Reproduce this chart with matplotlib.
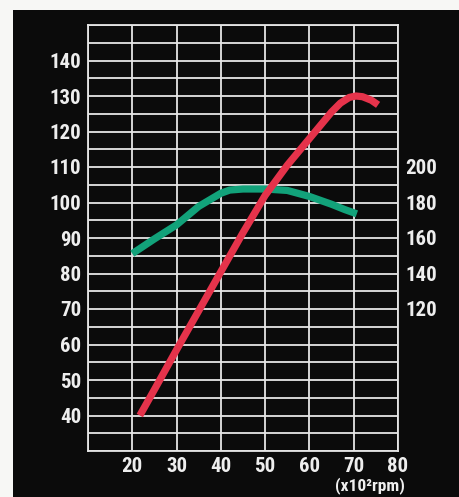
import matplotlib
matplotlib.use("Agg")
import matplotlib.pyplot as plt
from matplotlib.patches import Rectangle
from matplotlib import font_manager

# ---- data ----
rpm_red = [21.7, 25, 30, 35, 40, 45, 50, 55, 60, 63, 65, 67, 69, 70.5, 72, 74, 75.5]
power = [40, 47.3, 58.5, 69.5, 80.5, 91.5, 102, 110.5, 118, 122.5, 125.5, 128, 129.6, 130, 129.8, 128.8, 127.5]

rpm_green = [20, 25, 30, 35, 40, 42, 45, 50, 55, 60, 65, 68, 70.7]
torque = [151.2, 159.5, 167.4, 177.8, 185.2, 187.0, 187.6, 187.6, 186.8, 183.4, 179, 176, 173.6]

x_labels = [20, 30, 40, 50, 60, 70, 80]
left_labels = [40, 50, 60, 70, 80, 90, 100, 110, 120, 130, 140]
right_labels = [120, 140, 160, 180, 200]

cands = sorted({f.name for f in font_manager.fontManager.ttflist
                if "Narrow" in f.name or "Condensed" in f.name or f.stretch in ("condensed", "semi-condensed")})
fam = "DejaVu Sans"
for c in ["Liberation Sans Narrow", "DejaVu Sans Condensed", "Roboto Condensed", "Open Sans Condensed"]:
    if c in cands:
        fam = c
        break

W, H = 459, 497
fig = plt.figure(figsize=(W / 100, H / 100), dpi=100, facecolor="#f7f7f5")
fig.patches.append(Rectangle((13 / W, 0), 1 - 13 / W, 1 - 10 / H, transform=fig.transFigure,
                             facecolor="#0b0b0b", edgecolor="none", zorder=-5))

font = dict(family=[fam, "DejaVu Sans"], weight="bold", size=15, stretch="condensed")
fcol = "#eeeeee"

ax = fig.add_axes([88 / W, 1 - 451 / H, 310 / W, 426 / H])
ax.set_zorder(1)
ax.set_facecolor("#0b0b0b")
ax.set_xlim(10, 80)
ax.set_ylim(30, 150)

ax.set_xticks(range(10, 81, 10))
ax.set_xticklabels([""] + [str(v) for v in x_labels], **font, color=fcol)
yt = list(range(30, 151, 5))
ax.set_yticks(yt)
ax.set_yticklabels([str(v) if v in left_labels else "" for v in yt], **font, color=fcol)
ax.tick_params(axis="y", length=0, pad=5)
ax.tick_params(axis="x", length=0, pad=4)
ax.grid(True, color="#e6e6e6", linewidth=1.3)
for s in ax.spines.values():
    s.set_color("#e6e6e6")
    s.set_linewidth(1.3)

ax2 = ax.twinx()
ax2.set_zorder(2)
ax2.patch.set_visible(False)
ax2.set_ylim(2 * 30 - 20, 2 * 150 - 20)
ax2.set_yticks(right_labels)
ax2.set_yticklabels([str(v) for v in right_labels], **font, color=fcol)
ax2.tick_params(length=0, pad=5)
for s in ax2.spines.values():
    s.set_visible(False)

ax2.plot(rpm_green, torque, color="#12a27a", linewidth=5.2, solid_capstyle="butt", zorder=3)
ax2.plot(rpm_red, [2 * v - 20 for v in power], color="#e5334b", linewidth=5.2,
         solid_capstyle="butt", zorder=4)

rfont = dict(font, size=12.5)
fig.text(405 / W, 1 - 477 / H, "(x10²rpm)", ha="right", va="top", color=fcol, **rfont)

fig.savefig("out.png", dpi=100, facecolor=fig.get_facecolor())
